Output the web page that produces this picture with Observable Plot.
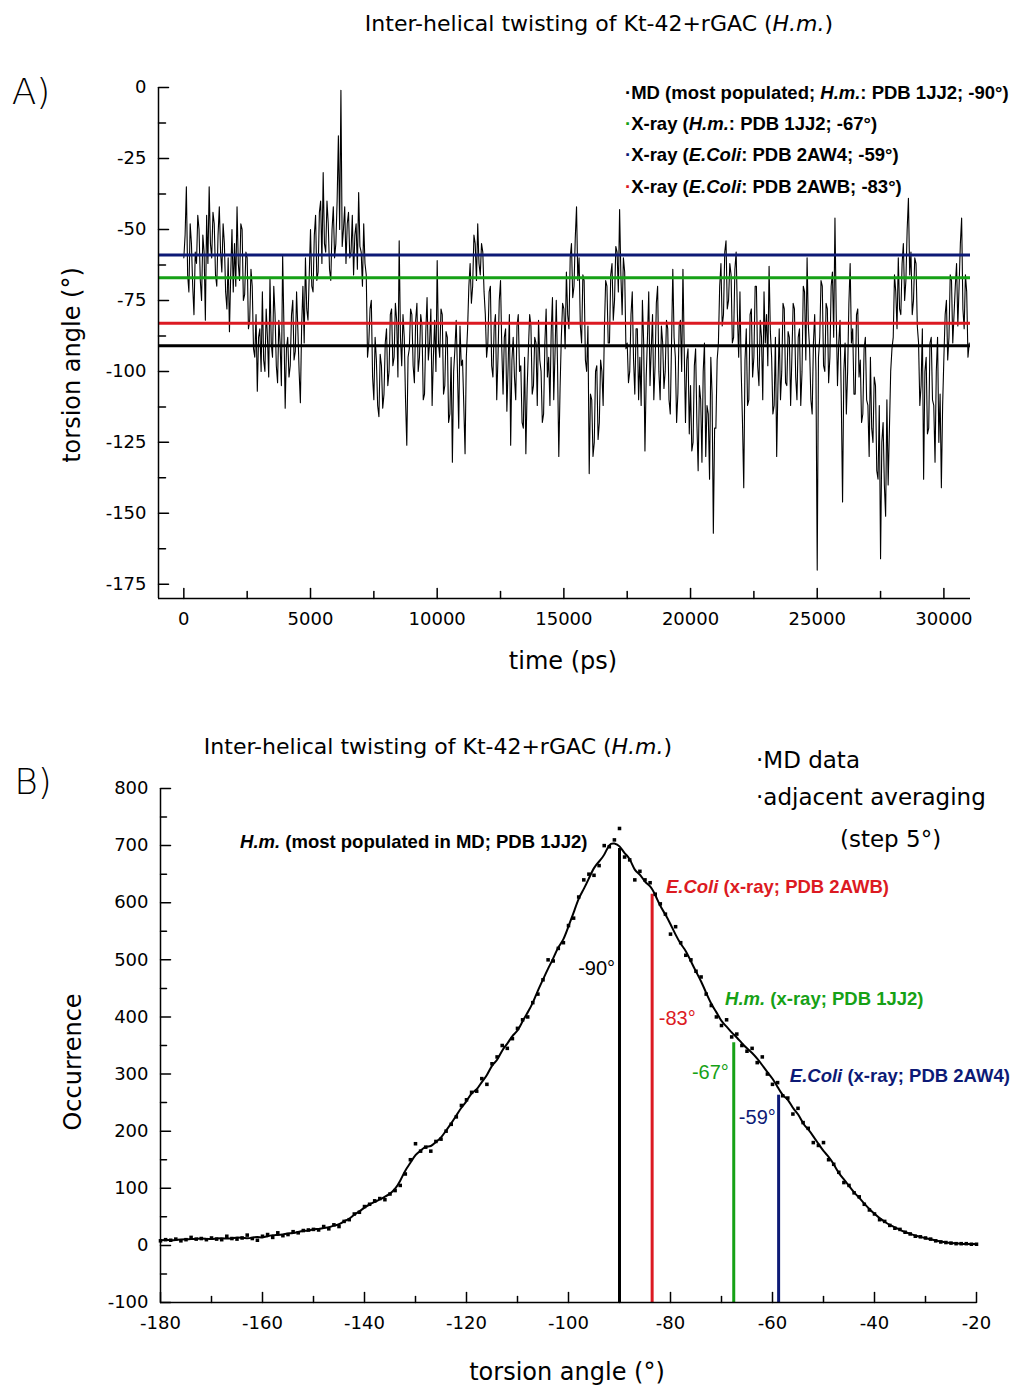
<!DOCTYPE html>
<html><head><meta charset="utf-8">
<script src="https://cdn.jsdelivr.net/npm/d3@7"></script>
<script src="https://cdn.jsdelivr.net/npm/@observablehq/plot@0.6"></script>
<style>
body{margin:0;background:#fff;}
#wrap{position:relative;width:1015px;height:1389px;overflow:hidden;font-family:"DejaVu Sans",sans-serif;color:#000;}
#wrap svg{position:absolute;left:0;}
.abs{position:absolute;white-space:nowrap;line-height:1;}
.c{transform:translate(-50%,-50%);}
.l{transform:translate(0,-50%);}
.b{font-family:"Liberation Sans",Arial,sans-serif;font-weight:bold;}
.rot{transform:translate(-50%,-50%) rotate(-90deg);}
</style></head><body><div id="wrap"></div>
<script>
// ---------- Panel A data: torsion angle vs time (sampled every 50 ps) ----------
const timeStepPs = 50;
const torsionA = [
 -60,-52,-35,-66,-72,-48,-55,-70,-80,-58,-62,-45,-50,-68,-75,-52,-58,-82,-45,-62,
 -35,-55,-60,-44,-48,-66,-70,-52,-42,-58,-65,-48,-55,-72,-78,-60,-86,-66,-50,-72,
 -55,-70,-42,-62,-68,-48,-50,-75,-73,-58,-60,-85,-82,-64,-70,-92,-95,-80,-107,-88,
 -85,-100,-72,-96,-100,-78,-88,-102,-67,-90,-95,-70,-80,-98,-104,-82,-90,-105,-59,-84,
 -113,-92,-88,-102,-98,-80,-75,-96,-93,-72,-85,-100,-111,-84,-70,-90,-60,-78,-82,-66,
 -50,-70,-72,-52,-45,-68,-65,-44,-40,-62,-30,-55,-58,-40,-48,-64,-68,-50,-42,-60,
 -55,-40,-17,-50,-1,-56,-50,-42,-62,-48,-44,-60,-58,-45,-66,-52,-48,-64,-37,-56,
 -58,-70,-48,-62,-66,-95,-90,-78,-75,-102,-110,-88,-96,-112,-116,-94,-98,-113,-108,-90,
 -85,-105,-100,-80,-78,-98,-95,-76,-82,-102,-54,-88,-98,-80,-88,-110,-126,-95,-92,-78,
 -80,-98,-104,-82,-76,-100,-95,-80,-84,-110,-108,-86,-74,-96,-90,-78,-112,-95,-82,-100,
 -61,-90,-95,-78,-80,-108,-105,-86,-88,-118,-115,-95,-132,-100,-92,-82,-100,-120,-84,-98,
 -96,-112,-129,-95,-85,-70,-62,-76,-70,-52,-55,-68,-48,-62,-66,-55,-58,-72,-80,-95,
 -90,-72,-70,-98,-102,-84,-80,-110,-95,-75,-68,-92,-108,-88,-85,-114,-98,-80,-126,-96,
 -88,-102,-110,-84,-80,-100,-98,-118,-120,-95,-129,-106,-92,-80,-84,-108,-105,-88,-90,-112,
 -82,-96,-100,-118,-115,-90,-78,-102,-95,-112,-86,-74,-110,-94,-75,-98,-130,-106,-88,-76,
 -78,-92,-65,-80,-85,-60,-55,-74,-70,-53,-42,-68,-60,-84,-90,-66,-68,-96,-100,-84,
 -136,-108,-110,-130,-125,-100,-98,-124,-118,-96,-100,-112,-85,-68,-70,-90,-90,-66,-62,-82,
 -75,-56,-58,-72,-43,-66,-80,-60,-65,-92,-90,-104,-100,-80,-72,-96,-108,-85,-85,-110,
 -95,-112,-75,-90,-128,-102,-88,-72,-105,-92,-80,-110,-98,-76,-70,-100,-110,-84,-90,-106,
 -100,-82,-85,-110,-115,-90,-64,-88,-95,-118,-108,-84,-82,-100,-64,-92,-118,-96,-92,-122,
 -105,-128,-125,-98,-92,-118,-135,-105,-110,-132,-100,-90,-130,-112,-115,-138,-95,-108,-157,-120,
 -120,-96,-90,-70,-62,-84,-80,-58,-54,-78,-75,-62,-66,-90,-88,-64,-58,-80,-95,-72,
 -100,-118,-141,-96,-85,-112,-110,-80,-78,-102,-95,-70,-70,-98,-105,-82,-88,-110,-72,-90,
 -80,-98,-63,-86,-95,-115,-112,-88,-130,-105,-85,-110,-100,-76,-78,-104,-105,-86,-88,-112,
 -95,-76,-78,-102,-110,-88,-85,-112,-100,-70,-72,-96,-60,-84,-92,-110,-115,-90,-80,-100,
 -170,-95,-88,-68,-70,-98,-100,-76,-78,-104,-95,-70,-65,-88,-46,-80,-105,-90,-82,-110,
 -146,-100,-90,-115,-100,-76,-62,-90,-85,-108,-108,-80,-78,-102,-96,-118,-115,-92,-88,-110,
 -112,-130,-95,-120,-125,-102,-105,-135,-138,-112,-166,-125,-118,-140,-151,-110,-140,-120,-100,-92,
 -88,-66,-72,-85,-60,-78,-80,-62,-55,-75,-68,-50,-39,-66,-58,-80,-75,-60,-62,-84,
 -90,-112,-105,-85,-138,-100,-95,-122,-120,-90,-88,-110,-112,-132,-100,-88,-125,-108,-141,-112,
 -95,-80,-75,-96,-88,-66,-68,-90,-80,-70,-62,-84,-70,-55,-46,-78,-85,-66,-72,-95,-90
];
const refNames  = ["MD", "X-ray H.m. 1JJ2", "X-ray E.Coli 2AW4", "X-ray E.Coli 2AWB"];
const refAngles = [-91, -67, -59, -83];
const refColors = ["#000000", "#16a116", "#0d1a76", "#dc1a22"];
const xDomainA = [-1000, 31050];
const yDomainA = [-180, 0];
const xLabelTicksA = [0, 5000, 10000, 15000, 20000, 25000, 30000];
const xMinorTicksA = [2500, 7500, 12500, 17500, 22500, 27500];
const yLabelTicksA = [0, -25, -50, -75, -100, -125, -150, -175];
const yMinorTicksA = [-12.5, -37.5, -62.5, -87.5, -112.5, -137.5, -162.5];

// ---------- Panel B data: occurrence histogram (1 degree bins) ----------
const binStartDeg = -180, binStepDeg = 1;
const occurrence = [
 8,10,9,11,8,10,14,11,12,10,
 13,11,10,16,12,11,13,18,12,9,
 16,19,14,22,17,19,24,22,26,27,
 28,27,33,29,36,33,42,45,55,58,
 68,72,78,82,80,90,96,105,125,150,
 178,165,172,165,182,186,200,212,225,245,
 255,268,270,292,282,318,330,350,345,362,
 380,395,400,425,440,465,500,498,520,530,
 560,573,610,640,650,648,665,700,698,710,
 730,680,675,640,655,640,635,615,598,580,
 545,558,530,508,500,480,470,440,420,400,
 385,395,365,370,350,340,345,320,330,300,
 282,285,262,258,230,240,215,205,180,175,
 180,150,142,128,110,105,92,85,72,62,
 55,45,42,35,30,28,23,20,16,15,
 13,11,8,6,5,4,3,3,3,2,
 2
];
const markerAngles = [-90, -83.6, -67.6, -58.8];
const markerTops   = [695, 615, 355, 263];
const markerColors = ["#000000", "#dc1a22", "#16a116", "#0d1a76"];
const xDomainB = [-180, -20];
const yDomainB = [-100, 800];
const xLabelTicksB = [-180,-160,-140,-120,-100,-80,-60,-40,-20];
const xMinorTicksB = [-170,-150,-130,-110,-90,-70,-50,-30];
const yLabelTicksB = [-100,0,100,200,300,400,500,600,700,800];
const yMinorTicksB = [-50,50,150,250,350,450,550,650,750];

// annotations (data coordinates: start x, centre y)
const annB = [
 {x:-164.3, y:707, color:"#000000", size:18.5, parts:[["H.m.",1],[" (most populated in MD; PDB 1JJ2)",0]]},
 {x:-80.8, y:627, color:"#dc1a22", size:18.5, parts:[["E.Coli",1],[" (x-ray; PDB 2AWB)",0]]},
 {x:-69.2, y:431, color:"#16a116", size:18.5, parts:[["H.m.",1],[" (x-ray; PDB 1JJ2)",0]]},
 {x:-56.5, y:296, color:"#0d1a76", size:18.5, parts:[["E.Coli",1],[" (x-ray; PDB 2AW4)",0]]},
 {x:-98.0, y:485, color:"#000000", size:20, normal:true, parts:[["-90°",0]]},
 {x:-82.2, y:398, color:"#dc1a22", size:20, normal:true, parts:[["-83°",0]]},
 {x:-75.7, y:303, color:"#16a116", size:20, normal:true, parts:[["-67°",0]]},
 {x:-66.5, y:224, color:"#0d1a76", size:20, normal:true, parts:[["-59°",0]]}
];

// ---------- build ----------
const wrap = document.getElementById("wrap");
const seriesA = torsionA.map((v, i) => ({t: i * timeStepPs, v}));
const refs = refAngles.map((v, i) => ({name: refNames[i], v, color: refColors[i]}));
const hist = occurrence.map((c, i) => ({a: binStartDeg + i * binStepDeg, c}));
const markers = markerAngles.map((a, i) => ({a, top: markerTops[i], color: markerColors[i]}));
const fmt = d => String(d);

const tickUp = {draw(ctx, l) { ctx.moveTo(0, 0); ctx.lineTo(0, -l); }};
const tickRight = {draw(ctx, l) { ctx.moveTo(0, 0); ctx.lineTo(l, 0); }};
function ticksX(vals, len) { return Plot.vector(vals, {x: d => d, frameAnchor: "bottom", length: len, anchor: "start", shape: tickUp, stroke: "black", strokeWidth: 1.5}); }
function ticksY(vals, len) { return Plot.vector(vals, {y: d => d, frameAnchor: "left", length: len, anchor: "start", shape: tickRight, stroke: "black", strokeWidth: 1.5}); }

const plotA = Plot.plot({
  width: 1015, height: 700,
  marginTop: 87, marginBottom: 102, marginLeft: 158, marginRight: 45,
  x: {domain: xDomainA}, y: {domain: yDomainA},
  style: {fontFamily: "DejaVu Sans", fontSize: "18px", color: "black", background: "transparent", overflow: "visible"},
  marks: [
    Plot.lineY(seriesA, {x: "t", y: "v", stroke: "black", strokeWidth: 1.1}),
    Plot.ruleY(refs, {y: "v", stroke: "color", strokeWidth: 3}),
    Plot.ruleX([xDomainA[0]], {stroke: "black", strokeWidth: 1.5}),
    Plot.ruleY([yDomainA[0]], {stroke: "black", strokeWidth: 1.5}),
    ticksX(xLabelTicksA, 10), ticksX(xMinorTicksA, 7),
    ticksY(yLabelTicksA, 10), ticksY(yMinorTicksA, 7),
    Plot.axisY(yLabelTicksA, {tickSize: 0, tickPadding: 12, fontSize: 18, label: null, tickFormat: fmt}),
    Plot.axisX(xLabelTicksA, {tickSize: 0, tickPadding: 14, fontSize: 18, label: null, tickFormat: fmt})
  ]
});
plotA.style.top = "0px";
wrap.appendChild(plotA);

const plotB = Plot.plot({
  width: 1015, height: 689,
  marginTop: 88, marginBottom: 87, marginLeft: 160, marginRight: 39,
  x: {domain: xDomainB}, y: {domain: yDomainB},
  style: {fontFamily: "DejaVu Sans", fontSize: "18px", color: "black", background: "transparent", overflow: "visible"},
  marks: [
    Plot.ruleX(markers, {x: "a", y1: yDomainB[0], y2: "top", stroke: "color", strokeWidth: 3}),
    Plot.dot(hist, {x: "a", y: "c", symbol: "square", r: 2, fill: "black"}),
    Plot.lineY(hist, Plot.windowY({k: 5, anchor: "middle"}, {x: "a", y: "c", stroke: "black", strokeWidth: 2, curve: "natural"})),
    Plot.ruleX([xDomainB[0]], {stroke: "black", strokeWidth: 1.5}),
    Plot.ruleY([yDomainB[0]], {stroke: "black", strokeWidth: 1.5}),
    ticksX(xLabelTicksB, 10), ticksX(xMinorTicksB, 6),
    ticksY(yLabelTicksB, 10), ticksY(yMinorTicksB, 6),
    Plot.axisY(yLabelTicksB, {tickSize: 0, tickPadding: 12, fontSize: 18, label: null, tickFormat: fmt}),
    Plot.axisX(xLabelTicksB, {tickSize: 0, tickPadding: 14, fontSize: 18, label: null, tickFormat: fmt})
  ]
});
plotB.style.top = "700px";
wrap.appendChild(plotB);

// annotations in panel B via the plot's own scales
const sxB = plotB.scale("x"), syB = plotB.scale("y");
const gB = d3.select(plotB).append("g").attr("text-anchor", "start");
annB.forEach(a => {
  const t = gB.append("text").attr("x", sxB.apply(a.x)).attr("y", syB.apply(a.y)).attr("dy", "0.35em")
    .attr("text-anchor", "start")
    .attr("fill", a.color).attr("font-family", "Liberation Sans, Arial, sans-serif")
    .attr("font-weight", a.normal ? "normal" : "bold").attr("font-size", a.size);
  a.parts.forEach(([s, it]) => t.append("tspan").attr("font-style", it ? "italic" : "normal").text(s));
});

// ---------- HTML text ----------
function addDiv(html, cls, css) {
  const d = document.createElement("div");
  d.className = "abs " + cls; d.innerHTML = html; d.style.cssText = css; wrap.appendChild(d);
}
addDiv('Inter-helical twisting of Kt-42+rGAC (<i>H.m.</i>)', "c", "left:599px;top:24px;font-size:22px;");
addDiv('A)', "c", "left:31px;top:92px;font-size:36px;font-weight:300;");
addDiv('torsion angle (°)', "rot", "left:72px;top:365px;font-size:24px;");
addDiv('time (ps)', "c", "left:563px;top:661px;font-size:24px;");
const legA = [
  ['MD (most populated; <i>H.m.</i>: PDB 1JJ2; -90°)', refColors[0], 93],
  ['X-ray (<i>H.m.</i>: PDB 1JJ2; -67°)', refColors[1], 124],
  ['X-ray (<i>E.Coli</i>: PDB 2AW4; -59°)', refColors[2], 155],
  ['X-ray (<i>E.Coli</i>: PDB 2AWB; -83°)', refColors[3], 187]
];
legA.forEach(([h, col, y]) => addDiv('<span style="color:' + col + '">·</span>' + h, "l b", "left:625px;top:" + y + "px;font-size:18.5px;"));

addDiv('Inter-helical twisting of Kt-42+rGAC (<i>H.m.</i>)', "c", "left:438px;top:747px;font-size:22px;");
addDiv('B)', "c", "left:33px;top:782px;font-size:36px;font-weight:300;");
addDiv('Occurrence', "rot", "left:73px;top:1062px;font-size:24px;");
addDiv('torsion angle (°)', "c", "left:567px;top:1372px;font-size:24px;");
addDiv('·MD data', "l", "left:756px;top:760px;font-size:23px;");
addDiv('·adjacent averaging', "l", "left:756px;top:797px;font-size:23px;");
addDiv('(step 5°)', "l", "left:840px;top:839px;font-size:23px;");
</script></body></html>
